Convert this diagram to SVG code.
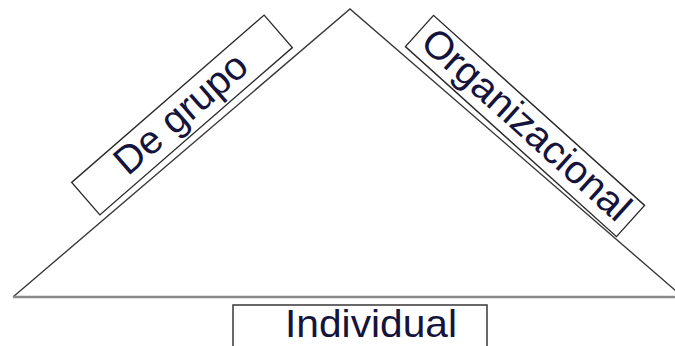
<svg xmlns="http://www.w3.org/2000/svg" width="675" height="346" viewBox="0 0 675 346">
<style>
.side{fill:none;stroke:#3a3a3a;stroke-width:1.4}
.base{fill:none;stroke:#8a8a8a;stroke-width:2.6}
.box{fill:#fff;stroke:#2a2a2a;stroke-width:1.4}
.lbl{font-family:"Liberation Sans",Arial,sans-serif;font-size:39px;fill:#14143c;text-anchor:middle}
</style>
<rect width="675" height="346" fill="#fff"/>
<g id="connectors">
<polyline class="side" points="13,297 350,9 683,297"/>
<line class="base" x1="13" y1="297" x2="675" y2="297"/>
</g>
<g id="de-grupo" transform="translate(182,115) rotate(-41)">
<rect class="box" x="-127.5" y="-21.5" width="255" height="43"/>
<text class="lbl" x="0" y="11" textLength="163" lengthAdjust="spacingAndGlyphs">De grupo</text>
</g>
<g id="organizacional" transform="translate(525,126) rotate(42)">
<rect class="box" x="-142" y="-21" width="284" height="42"/>
<text class="lbl" x="0" y="11" textLength="266" lengthAdjust="spacingAndGlyphs">Organizacional</text>
</g>
<g id="individual">
<rect class="box" x="233" y="305" width="254" height="43"/>
<text class="lbl" x="371" y="336.5" textLength="172" lengthAdjust="spacingAndGlyphs">Individual</text>
</g>
</svg>
